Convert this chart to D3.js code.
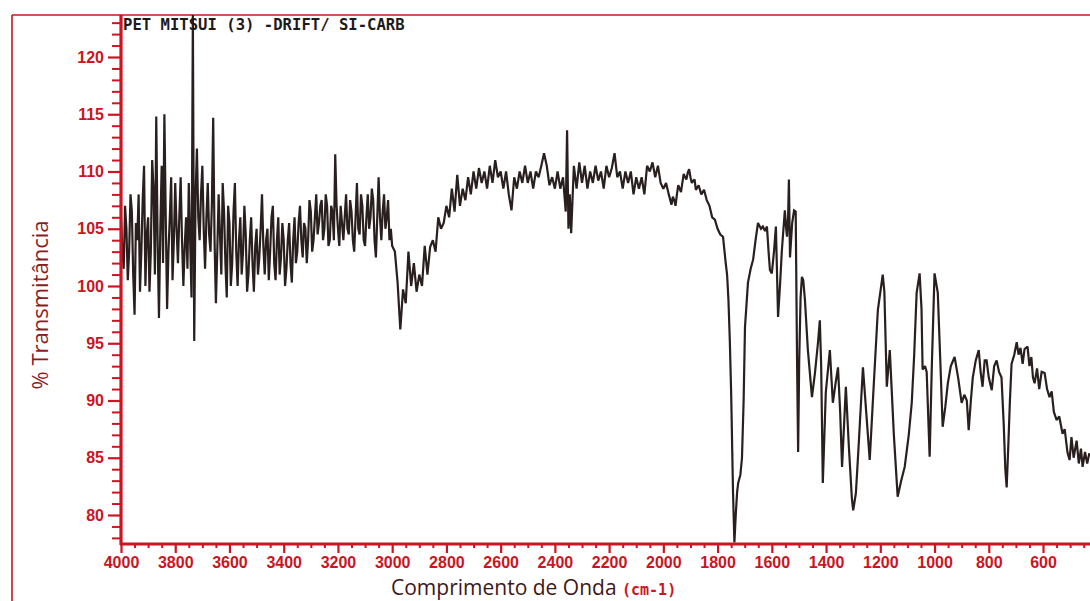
<!DOCTYPE html>
<html>
<head>
<meta charset="utf-8">
<script src="https://cdn.jsdelivr.net/npm/d3@7"></script>
<style>
  html, body { margin: 0; padding: 0; background: #ffffff; }
  svg { display: block; }
</style>
</head>
<body>
<svg id="chart" width="1090" height="601"></svg>
<script>
// ---- data ----
const title = "PET MITSUI (3) -DRIFT/ SI-CARB";
const yTitle = "% Transmitância";
const xTitle = "Comprimento de Onda";
const xUnit = "(cm-1)";

const yMajorTicks = [80, 85, 90, 95, 100, 105, 110, 115, 120];
const xMajorTicks = [4000, 3800, 3600, 3400, 3200, 3000, 2800, 2600, 2400, 2200, 2000, 1800, 1600, 1400, 1200, 1000, 800, 600];

const wavenumber = [
  4000,3995,3990,3985,3980,3975,3970,3965,3960,3955,3950,3945,3940,3935,3930,3925,3920,3915,3910,3905,
  3900,3895,3890,3885,3880,3875,3870,3865,3860,3855,3850,3845,3840,3835,3830,3825,3820,3815,3810,3805,
  3800,3795,3790,3785,3780,3775,3770,3765,3760,3755,3750,3745,3740,3735,3730,3725,3720,3715,3710,3705,
  3700,3695,3690,3685,3680,3675,3670,3665,3660,3655,3650,3645,3640,3635,3630,3625,3620,3615,3610,3605,
  3600,3595,3590,3585,3580,3575,3570,3565,3560,3555,3550,3545,3540,3535,3530,3525,3520,3515,3510,3505,
  3500,3495,3490,3485,3480,3475,3470,3465,3460,3455,3450,3445,3440,3435,3430,3425,3420,3415,3410,3405,
  3400,3395,3390,3385,3380,3375,3370,3365,3360,3355,3350,3345,3340,3335,3330,3325,3320,3315,3310,3305,
  3300,3295,3290,3285,3280,3275,3270,3265,3260,3255,3250,3245,3240,3235,3230,3225,3220,3215,3210,3205,
  3200,3195,3190,3185,3180,3175,3170,3165,3160,3155,3150,3145,3140,3135,3130,3125,3120,3115,3110,3105,
  3100,3095,3090,3085,3080,3075,3070,3065,3060,3055,3050,3045,3040,3035,3030,3025,3020,3015,3010,3005,
  3000,2990,2980,2970,2960,2950,2940,2930,2920,2910,2900,2890,2880,2870,2860,2850,2840,2830,2820,
  2810,2800,2790,2780,2770,2760,2750,2740,2730,2720,2710,2700,2690,2680,2670,2660,2650,2640,2630,2620,
  2610,2600,2590,2580,2570,2560,2550,2540,2530,2520,2510,2500,2490,2480,2470,2460,2450,2440,2430,2420,
  2410,2400,2390,2380,2370,2360,2355,2350,2345,2340,2330,2320,2310,2300,2290,2280,2270,2260,2250,2240,
  2230,2220,2210,2200,2190,2180,2170,2160,2150,2140,2130,2120,2110,2100,2090,2080,2070,2060,2050,2040,
  2030,2020,2010,2000,1990,1980,1970,1965,1960,1955,1950,1945,1940,1935,1930,1925,1920,1915,1910,1905,
  1900,1895,1890,1885,1880,1870,1860,1850,1840,
  1830,1820,1810,1800,1790,1780,1770,1765,1760,1755,1750,1743,1738,1733,1728,1724,1716,1710,1704,1699,
  1688,1678,1669,1660,1651,1640,1633,1625,1618,1612,1607,1600,1592,1585,1577,1570,1563,1552,1547,1544,
  1540,1537,1533,1525,1518,1512,1507,1503,1499,1494,1489,1484,1478,1467,1452,1441,1430,1423,1418,1412,
  1401,1386,1375,1365,1356,1348,1341,1327,1316,1305,1300,1290,1280,1264,1252,1239,1225,1209,1191,1185,
  1176,1165,1150,1136,1123,1110,1095,1084,1075,1066,1055,1048,1044,1035,1029,1018,1010,1000,988,978,
  970,960,951,940,926,913,900,890,881,874,866,859,848,837,830,823,815,808,800,789,
  780,771,762,753,745,739,734,728,722,716,706,697,690,683,675,668,657,650,643,637,
  631,622,614,605,594,585,576,568,560,550,540,528,520,510,502,495,487,476,468,460,
  454,445,437,429
];

const transmittance = [
  106,103,101.5,107,105,100.5,103,108,106.5,101,97.5,105.5,104,108,99.5,103,107.5,110.5,100,104.5,
  106,99.5,103,111,108.5,101,114.8,104,97.2,105,110.5,102,115,106,98,103,106,109.5,100.5,104,
  109,105,102,106,109.5,104,100,103.5,106,101.5,109,104,99,123.7,95.2,108,112,106,104,108,
  110.5,105,101.5,106,109,104.5,103,107,114.7,104,98.5,103,108,104.5,101,109,106.5,102,99,107,
  105.5,100,102,106.5,109,103,100,104,106,101,103,107,104.5,99.5,101,104,106,102,99.5,103.5,
  105,101,102.5,105,108,103.5,101,104,105,100.5,103,106,107,102,100.5,104,106,101,102.5,105.5,
  104,100,101.5,104,105.5,102,100.3,104,106,102,103,105.5,107,104,102.5,105.5,105,102,104,107.5,
  106.5,103,104,106,108,104.5,105.5,107,107.5,104,105,108,107,103.5,104,107,106.5,104,111.5,107,
  105,103.5,107,105.5,104,106,108,105,104.5,107.5,106.5,104,103,106,109,105,104.5,108,107,104,
  103.5,106,108,105,106,108.5,107.5,104,102.5,106,109.5,106,104,106.5,108,105,106,107.5,104,105,
  103.5,103,100.3,96.2,99.7,98.5,103,100,102,99.5,101,100,103.5,101,103.4,104,103,106,105,
  105.5,107,106,108.5,106.5,109.7,107,108.5,107.5,109.5,108,110,108.5,110.3,109,110,108.5,110.5,109,111,
  109.5,110,108.5,110,108,106.6,109.5,108.5,110,109,110.5,109,110,108.5,110,109.5,110.5,111.6,110.5,108.8,
  109.5,108.5,110,108.5,109.5,106.5,113.6,105,108,104.6,110.5,108.5,110.8,109,110.5,108.5,110,109,110.5,109.2,
  110,108.5,110.5,109.5,110.3,111.6,109.5,110,108.5,110,109,110,108,109.5,108.5,109.5,108,110.5,110,110.8,
  109.5,110.5,109,108.5,109,108,107.1,107.8,107.5,107,108,108.8,108.5,108.2,109,109.8,109.5,109.3,109.9,110.2,
  109.5,109,109.2,109.3,108.4,108.8,108,108.4,107.5,
  107,106,105.8,105,104.5,104.3,102,101,98.8,95.3,90.7,81.9,77.6,80,82,82.8,83.5,85,90,96.4,
  100.3,101.5,102.3,104,105.5,105,105.2,104.8,105.2,103,101.4,101.1,103,105.2,97.3,100,103.1,106.6,105,104.3,
  106,109.3,102.5,105.5,106.6,106.5,93.5,85.5,93.5,99,100.8,100.5,98.8,94.4,90.3,92.4,95,97,93,82.8,
  90.7,94.4,89.8,91.5,92.9,89,84.2,91.2,86,81.5,80.4,81.9,86,92.9,89,84.8,91,97.9,101,99.5,
  91.2,94.4,87,81.6,83,84.2,87,89.8,94,99.4,101.1,98,92.7,93,92.5,85.1,93,101.1,99.4,93,
  87.7,89.5,91.5,93,93.8,92,89.8,90.5,90,87.4,90,92,93.5,94.4,92.5,91.2,93.5,93.5,92,90.9,
  93,93.5,92.5,92,88,84,82.4,86,90,93.2,94,95.1,94,94.6,93.2,94.5,94.7,93,93.8,92,
  91.5,92.8,91,92.5,92.4,91,90.3,90.8,89,88.3,88.6,87.1,87.5,85.5,84.8,86.8,85,86.5,84.5,85.8,
  84.2,85.5,84.5,85.4
];

// ---- drawing ----
const svg = d3.select("#chart");
const W = 1090, H = 601;
const red = "#cc1422";
const plot = { left: 121, right: 1090, top: 15, bottom: 544 };

const x = d3.scaleLinear().domain([4000, 426.7]).range([121, 1090]);
const y = d3.scaleLinear().domain([77.467, 123.668]).range([544, 15]);

// outer frame (left and top)
svg.append("line").attr("x1", 12).attr("x2", 12).attr("y1", 15).attr("y2", H)
  .attr("stroke", red).attr("stroke-width", 1.6);
svg.append("line").attr("x1", 12).attr("x2", W).attr("y1", 15).attr("y2", 15)
  .attr("stroke", red).attr("stroke-width", 1.6);

// clip
svg.append("clipPath").attr("id", "clip").append("rect")
  .attr("x", plot.left + 1).attr("y", plot.top)
  .attr("width", plot.right - plot.left).attr("height", plot.bottom - plot.top);

// spectrum
const n = Math.min(wavenumber.length, transmittance.length);
const pts = wavenumber.slice(0, n).map((w, i) => [w, transmittance[i]]);
const line = d3.line().x(d => x(d[0])).y(d => y(d[1]));
svg.append("path")
  .attr("d", line(pts))
  .attr("clip-path", "url(#clip)")
  .attr("fill", "none")
  .attr("stroke", "#2a1f1f")
  .attr("stroke-width", 2.2)
  .attr("stroke-linejoin", "miter")
  .attr("stroke-miterlimit", 2);

// y minor ticks
const yMinor = d3.range(78, 124, 1).filter(v => v % 5 !== 0);
svg.append("g").attr("transform", `translate(${plot.left},0)`)
  .call(d3.axisLeft(y).tickValues(yMinor).tickSize(9).tickFormat(""))
  .call(g => g.select(".domain").remove())
  .call(g => g.selectAll("line").attr("stroke", red).attr("stroke-width", 2));

// y major axis
svg.append("g").attr("transform", `translate(${plot.left},0)`)
  .call(d3.axisLeft(y).tickValues(yMajorTicks).tickSize(13).tickPadding(4).tickFormat(d3.format("d")))
  .call(g => g.select(".domain").attr("stroke", red).attr("stroke-width", 3.2)
      .attr("d", `M0,${plot.top}V${plot.bottom + 1}`))
  .call(g => g.selectAll("line").attr("stroke", red).attr("stroke-width", 2.2))
  .call(g => g.selectAll("text").attr("fill", red)
      .attr("font-family", "'Liberation Sans', Arial, sans-serif")
      .attr("font-weight", "bold").attr("font-size", 16));

// x minor ticks
const xMinor = d3.range(4000, 420, -50).filter(v => v % 200 !== 0);
svg.append("g").attr("transform", `translate(0,${plot.bottom})`)
  .call(d3.axisBottom(x).tickValues(xMinor).tickSize(4).tickFormat(""))
  .call(g => g.select(".domain").remove())
  .call(g => g.selectAll("line").attr("stroke", red).attr("stroke-width", 2));

// x major axis
svg.append("g").attr("transform", `translate(0,${plot.bottom})`)
  .call(d3.axisBottom(x).tickValues(xMajorTicks).tickSize(9).tickPadding(3.5).tickFormat(d3.format("d")))
  .call(g => g.select(".domain").attr("stroke", red).attr("stroke-width", 3.2)
      .attr("d", `M${plot.left - 1},0H${W}`))
  .call(g => g.selectAll("line").attr("stroke", red).attr("stroke-width", 2.2))
  .call(g => g.selectAll("text").attr("fill", red)
      .attr("font-family", "'Liberation Sans', Arial, sans-serif")
      .attr("font-weight", "bold").attr("font-size", 16));

// title
svg.append("text")
  .attr("x", 123).attr("y", 30)
  .attr("font-family", "'DejaVu Sans Mono', monospace")
  .attr("font-weight", "bold").attr("font-size", 15.6)
  .attr("fill", "#1e1a1a")
  .attr("xml:space", "preserve")
  .text(title);

// y axis title
svg.append("text")
  .attr("transform", "translate(48,305) rotate(-90)")
  .attr("text-anchor", "middle")
  .attr("font-family", "'Open Sans', 'Noto Sans', sans-serif")
  .attr("font-size", 22)
  .attr("fill", "#8a1c1e")
  .text(yTitle);

// x axis title
const xt = svg.append("text")
  .attr("x", 391).attr("y", 594.5)
  .attr("font-family", "'Open Sans', 'Noto Sans', sans-serif")
  .attr("font-size", 21)
  .attr("fill", "#3d1818");
xt.append("tspan").text(xTitle + " ");
xt.append("tspan")
  .attr("font-family", "'DejaVu Sans Mono', monospace")
  .attr("font-weight", "bold").attr("font-size", 15)
  .attr("fill", red)
  .text(xUnit);
</script>
</body>
</html>
